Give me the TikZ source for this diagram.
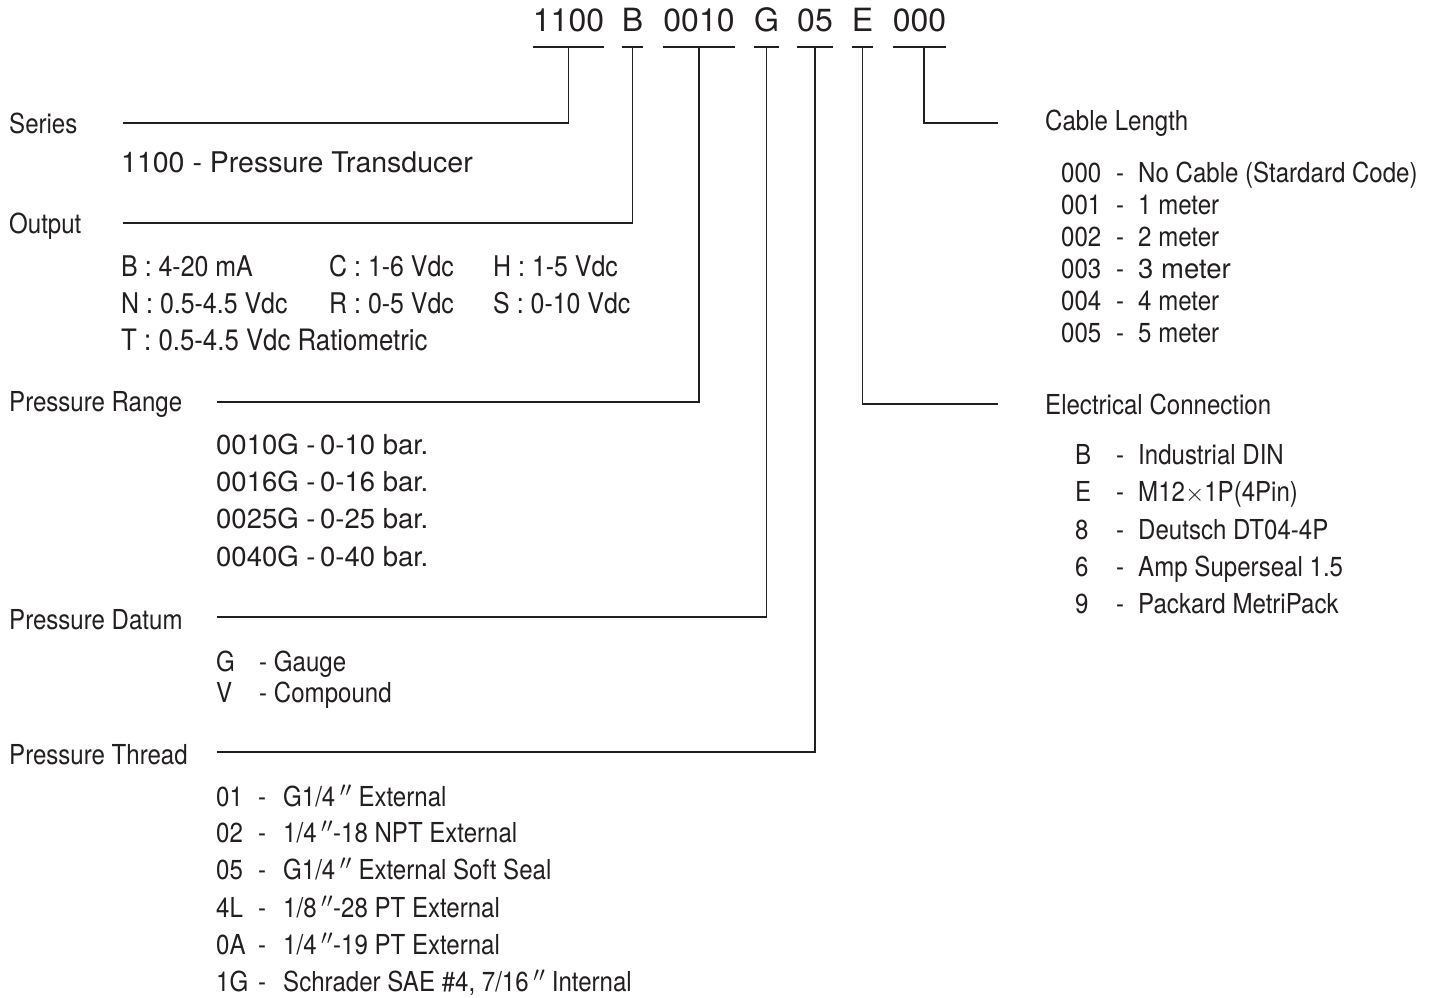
\documentclass[tikz,border=0pt]{standalone}
\usepackage{fontspec}
\setmainfont{TeX Gyre Heros}
\newfontfamily\condfont{TeX Gyre Heros}[FakeStretch=0.875]
\usetikzlibrary{calc, positioning}
\definecolor{ink}{HTML}{231F20}

\begin{document}
\begin{tikzpicture}[
        x=1pt, y=-1pt,
        codeword/.style={inner sep=0pt, text=ink, font=\fontsize{32}{36}\selectfont, text height=23pt, text depth=0pt},
        heading/.style={anchor=west, inner sep=0pt, text=ink, font=\condfont\fontsize{27.5}{30}\selectfont, text height=20pt, text depth=0pt},
        entry/.style={heading},
        entrywide/.style={anchor=west, inner sep=0pt, text=ink, font=\fontsize{27.5}{30}\selectfont, text height=20pt, text depth=0pt},
        leader/.style={draw=ink, line width=1.3pt}
    ]
    \useasboundingbox (0,0) rectangle (1435,998);

    % model code
    \node[codeword] (c1100) at (568.5,20) {1100};
    \node[codeword] (cB) at (632.5,20) {B};
    \node[codeword] (c0010) at (699,20) {0010};
    \node[codeword] (cG) at (766.5,20) {G};
    \node[codeword] (c05) at (815,20) {05};
    \node[codeword] (cE) at (862.5,20) {E};
    \node[codeword] (c000) at (919.5,20) {000};

    \draw[leader] (c1100.west |- 0,47) -- (c1100.east |- 0,47);
    \draw[leader] (cB.west |- 0,47) -- (cB.east |- 0,47);
    \draw[leader] (c0010.west |- 0,47) -- (c0010.east |- 0,47);
    \draw[leader] (cG.west |- 0,47) -- (cG.east |- 0,47);
    \draw[leader] (c05.west |- 0,47) -- (c05.east |- 0,47);
    \draw[leader] (cE.west |- 0,47) -- (cE.east |- 0,47);
    \draw[leader] (c000.west |- 0,47) -- (c000.east |- 0,47);

    % headings
    \node[heading] (series) at (9,123) {Series};
    \node[heading] (output) at (9,223) {Output};
    \node[heading] (prange) at (9,401) {Pressure Range};
    \node[heading] (pdatum) at (9,619) {Pressure Datum};
    \node[heading] (pthread) at (9,754) {Pressure Thread};
    \node[heading] (cable) at (1045,120) {Cable Length};
    \node[heading] (elec) at (1045,404) {Electrical Connection};

    \coordinate (tseries) at (123,123);
    \coordinate (toutput) at (123,223);
    \coordinate (tprange) at (217,402);
    \coordinate (tpdatum) at (217,617);
    \coordinate (tpthread) at (217,752);
    \coordinate (tcable) at (998,123);
    \coordinate (telec) at (998,404);

    % leaders
    \draw[leader] (c1100.center |- 0,47) |- (tseries);
    \draw[leader] (cB.center |- 0,47) |- (toutput);
    \draw[leader] (c0010.center |- 0,47) |- (tprange);
    \draw[leader] (cG.center |- 0,47) |- (tpdatum);
    \draw[leader] (c05.center |- 0,47) |- (tpthread);
    \draw[leader] (cE.center |- 0,47) |- (telec);
    \draw[leader] ([xshift=4.5pt]c000.center |- 0,47) |- (tcable);

    % series
    \node[entrywide, font=\fontsize{28.5}{30}\selectfont] (ser1) at (121,162) {1100 - Pressure Transducer};

    % output
    \node[entry, font=\condfont\fontsize{28.5}{30}\selectfont] (out1) at (121,266) {B : 4-20 mA};
    \node[entry, font=\condfont\fontsize{28.5}{30}\selectfont] (out2) at (329,266) {C : 1-6 Vdc};
    \node[entry, font=\condfont\fontsize{28.5}{30}\selectfont] (out3) at (493,266) {H : 1-5 Vdc};
    \node[entry, font=\condfont\fontsize{28.5}{30}\selectfont] (out4) at (121,303) {N : 0.5-4.5 Vdc};
    \node[entry, font=\condfont\fontsize{28.5}{30}\selectfont] (out5) at (329,303) {R : 0-5 Vdc};
    \node[entry, font=\condfont\fontsize{28.5}{30}\selectfont] (out6) at (493,303) {S : 0-10 Vdc};
    \node[entry, font=\condfont\fontsize{29.5}{30}\selectfont] (out7) at (121,340) {T : 0.5-4.5 Vdc Ratiometric};

    % pressure range
    \node[entrywide] (rng1) at (216,444) {0010G -};
    \node[entrywide] (rng1v) at (320,444) {0-10 bar.};
    \node[entrywide] (rng2) at (216,481) {0016G -};
    \node[entrywide] (rng2v) at (320,481) {0-16 bar.};
    \node[entrywide] (rng3) at (216,518) {0025G -};
    \node[entrywide] (rng3v) at (320,518) {0-25 bar.};
    \node[entrywide] (rng4) at (216,556) {0040G -};
    \node[entrywide] (rng4v) at (320,556) {0-40 bar.};

    % pressure datum
    \node[entry] (dat1) at (216,661) {G};
    \node[entry] (dat1v) at (259,661) {- Gauge};
    \node[entry] (dat2) at (216,692) {V};
    \node[entry] (dat2v) at (259,692) {- Compound};

    % pressure thread
    \node[entry] (thr1) at (216,796) {01};
    \node[entry] (thr1d) at (258,796) {-};
    \node[entry] (thr1v) at (283,796) {G1/4\,$''$ External};
    \node[entry] (thr2) at (216,832) {02};
    \node[entry] (thr2d) at (258,832) {-};
    \node[entry] (thr2v) at (283,832) {1/4\,$''$-18 NPT External};
    \node[entry] (thr3) at (216,869) {05};
    \node[entry] (thr3d) at (258,869) {-};
    \node[entry] (thr3v) at (283,869) {G1/4\,$''$ External Soft Seal};
    \node[entry] (thr4) at (216,907) {4L};
    \node[entry] (thr4d) at (258,907) {-};
    \node[entry] (thr4v) at (283,907) {1/8\,$''$-28 PT External};
    \node[entry] (thr5) at (216,944) {0A};
    \node[entry] (thr5d) at (258,944) {-};
    \node[entry] (thr5v) at (283,944) {1/4\,$''$-19 PT External};
    \node[entry] (thr6) at (216,981) {1G};
    \node[entry] (thr6d) at (258,981) {-};
    \node[entry] (thr6v) at (283,981) {Schrader SAE \#4, 7/16\,$''$ Internal};

    % cable length
    \node[entry] (cab1) at (1061,172) {000};
    \node[entry] (cab1d) at (1116,172) {-};
    \node[entry] (cab1v) at (1138,172) {No Cable (Stardard Code)};
    \node[entry] (cab2) at (1061,204) {001};
    \node[entry] (cab2d) at (1116,204) {-};
    \node[entry] (cab2v) at (1138,204) {1 meter};
    \node[entry] (cab3) at (1061,236) {002};
    \node[entry] (cab3d) at (1116,236) {-};
    \node[entry] (cab3v) at (1138,236) {2 meter};
    \node[entry] (cab4) at (1061,268) {003};
    \node[entry] (cab4d) at (1116,268) {-};
    \node[entrywide] (cab4v) at (1138,268) {3 meter};
    \node[entry] (cab5) at (1061,300) {004};
    \node[entry] (cab5d) at (1116,300) {-};
    \node[entry] (cab5v) at (1138,300) {4 meter};
    \node[entry] (cab6) at (1061,332) {005};
    \node[entry] (cab6d) at (1116,332) {-};
    \node[entry] (cab6v) at (1138,332) {5 meter};

    % electrical connection
    \node[entry] (ele1) at (1075,454) {B};
    \node[entry] (ele1d) at (1116,454) {-};
    \node[entry] (ele1v) at (1138,454) {Industrial DIN};
    \node[entry] (ele2) at (1075,491) {E};
    \node[entry] (ele2d) at (1116,491) {-};
    \node[entry] (ele2v) at (1138,491) {M12$\times$1P(4Pin)};
    \node[entry] (ele3) at (1075,529) {8};
    \node[entry] (ele3d) at (1116,529) {-};
    \node[entry] (ele3v) at (1138,529) {Deutsch DT04-4P};
    \node[entry] (ele4) at (1075,566) {6};
    \node[entry] (ele4d) at (1116,566) {-};
    \node[entry] (ele4v) at (1138,566) {Amp Superseal 1.5};
    \node[entry] (ele5) at (1075,603) {9};
    \node[entry] (ele5d) at (1116,603) {-};
    \node[entry] (ele5v) at (1138,603) {Packard MetriPack};
\end{tikzpicture}
\end{document}
